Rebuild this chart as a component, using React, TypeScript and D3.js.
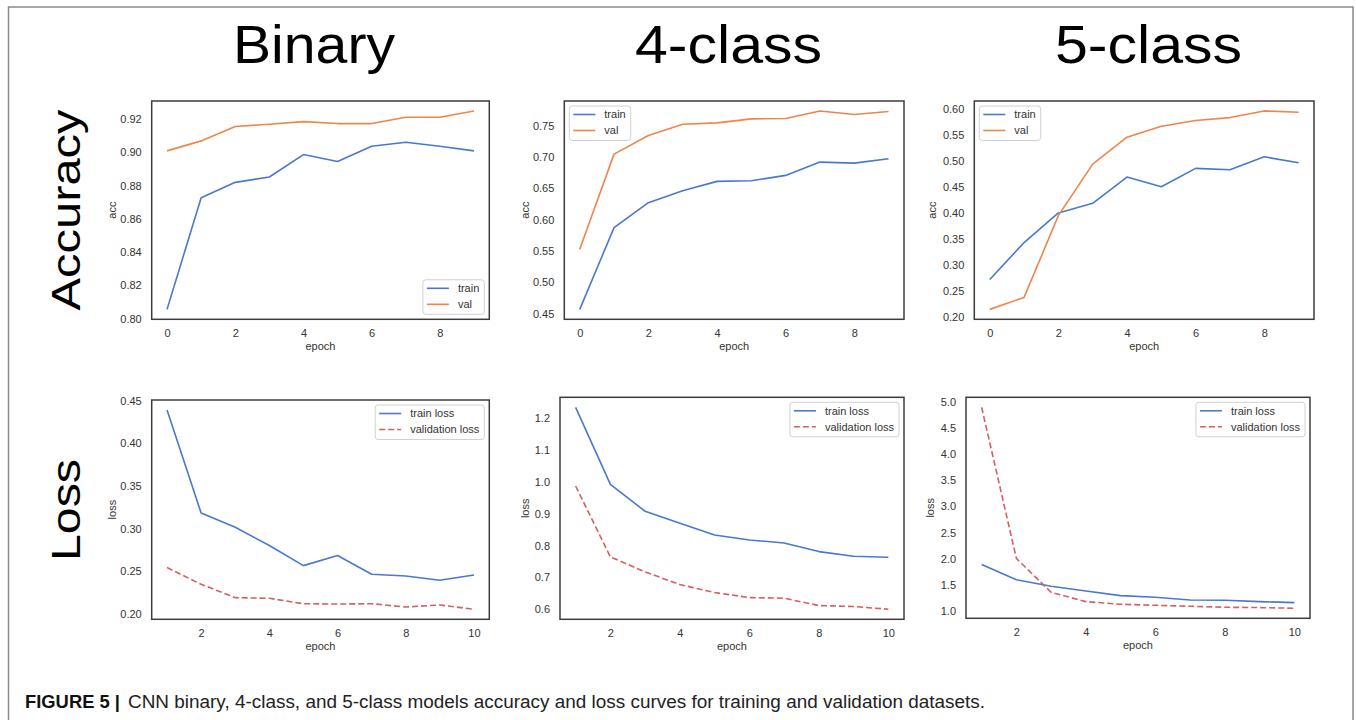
import React, { useRef, useEffect } from 'react';
import * as d3 from 'd3';

// epochs
const accEpochs = [0, 1, 2, 3, 4, 5, 6, 7, 8, 9];
const lossEpochs = [1, 2, 3, 4, 5, 6, 7, 8, 9, 10];

// accuracy curves
const binaryTrainAcc = [0.8056, 0.8727, 0.8819, 0.8851, 0.8986, 0.8944, 0.9036, 0.906, 0.9036, 0.9008];
const binaryValAcc = [0.9008, 0.9068, 0.9154, 0.9168, 0.9184, 0.9172, 0.9172, 0.921, 0.921, 0.9248];
const fourTrainAcc = [0.4569, 0.5873, 0.627, 0.6461, 0.661, 0.662, 0.6705, 0.6917, 0.6901, 0.697];
const fourValAcc = [0.5528, 0.7044, 0.7341, 0.7521, 0.7542, 0.7606, 0.7611, 0.7733, 0.7675, 0.7723];
const fiveTrainAcc = [0.2716, 0.3425, 0.3994, 0.4179, 0.4684, 0.4498, 0.485, 0.4824, 0.5073, 0.4958];
const fiveValAcc = [0.2141, 0.2371, 0.3942, 0.4933, 0.545, 0.5661, 0.577, 0.5827, 0.5955, 0.593];

// loss curves
const binaryTrainLoss = [0.439, 0.3182, 0.3017, 0.2802, 0.2567, 0.2685, 0.2466, 0.2446, 0.2395, 0.2458];
const binaryValLoss = [0.2544, 0.2348, 0.2192, 0.2184, 0.2121, 0.2117, 0.2121, 0.2082, 0.2106, 0.2055];
const fourTrainLoss = [1.2346, 0.9927, 0.9079, 0.8702, 0.8335, 0.8178, 0.8084, 0.7812, 0.7665, 0.7634];
const fourValLoss = [0.9874, 0.7644, 0.7173, 0.6775, 0.6524, 0.6366, 0.6346, 0.6115, 0.6084, 0.6];
const fiveTrainLoss = [1.89, 1.598, 1.471, 1.382, 1.293, 1.261, 1.21, 1.203, 1.178, 1.159];
const fiveValLoss = [4.898, 2.005, 1.356, 1.178, 1.127, 1.108, 1.089, 1.07, 1.064, 1.051];

// tick labels
const accXTicks = [0, 2, 4, 6, 8];
const lossXTicks = [2, 4, 6, 8, 10];
const binaryAccTicks = [0.8, 0.82, 0.84, 0.86, 0.88, 0.9, 0.92];
const fourAccTicks = [0.45, 0.5, 0.55, 0.6, 0.65, 0.7, 0.75];
const fiveAccTicks = [0.2, 0.25, 0.3, 0.35, 0.4, 0.45, 0.5, 0.55, 0.6];
const binaryLossTicks = [0.2, 0.25, 0.3, 0.35, 0.4, 0.45];
const fourLossTicks = [0.6, 0.7, 0.8, 0.9, 1.0, 1.1, 1.2];
const fiveLossTicks = [1.0, 1.5, 2.0, 2.5, 3.0, 3.5, 4.0, 4.5, 5.0];

const columnTitles = ['Binary', '4-class', '5-class'];
const rowTitles = ['Accuracy', 'Loss'];

const BLUE = '#4878d0';
const ORANGE = '#ee854a';
const RED = '#d65f5f';
const FONT = '"Liberation Sans", Arial, Helvetica, sans-serif';

const accSeries = (train, val) => [
  { label: 'train', values: train, color: BLUE, dash: null },
  { label: 'val', values: val, color: ORANGE, dash: null },
];
const lossSeries = (train, val) => [
  { label: 'train loss', values: train, color: BLUE, dash: null },
  { label: 'validation loss', values: val, color: RED, dash: '6,3' },
];

const panels = [
  { box: [151.7, 101, 489.3, 319.3], epochs: accEpochs, xTicks: accXTicks, yTicks: binaryAccTicks, fmt: '.2f', ylabel: 'acc', ylabOff: 40, legend: 'lower right', series: accSeries(binaryTrainAcc, binaryValAcc) },
  { box: [564.3, 101, 904, 319.3], epochs: accEpochs, xTicks: accXTicks, yTicks: fourAccTicks, fmt: '.2f', ylabel: 'acc', ylabOff: 39.5, legend: 'upper left', series: accSeries(fourTrainAcc, fourValAcc) },
  { box: [974.3, 101, 1314, 319.3], epochs: accEpochs, xTicks: accXTicks, yTicks: fiveAccTicks, fmt: '.2f', ylabel: 'acc', ylabOff: 42.5, legend: 'upper left', series: accSeries(fiveTrainAcc, fiveValAcc) },
  { box: [151.7, 400, 489.3, 619.3], epochs: lossEpochs, xTicks: lossXTicks, yTicks: binaryLossTicks, fmt: '.2f', ylabel: 'loss', ylabOff: 40, legend: 'upper right', series: lossSeries(binaryTrainLoss, binaryValLoss) },
  { box: [560, 397.3, 904, 619.3], epochs: lossEpochs, xTicks: lossXTicks, yTicks: fourLossTicks, fmt: '.1f', ylabel: 'loss', ylabOff: 35, legend: 'upper right', series: lossSeries(fourTrainLoss, fourValLoss) },
  { box: [966, 397.3, 1310, 618.3], epochs: lossEpochs, xTicks: lossXTicks, yTicks: fiveLossTicks, fmt: '.1f', ylabel: 'loss', ylabOff: 36, legend: 'upper right', series: lossSeries(fiveTrainLoss, fiveValLoss) },
];

// matplotlib-style 5% autoscale margin
const padDomain = (vals: number[]) => {
  const [lo, hi] = d3.extent(vals) as [number, number];
  const m = (hi - lo) * 0.05;
  return [lo - m, hi + m];
};

const App = () => {
  const svgRef = useRef<SVGSVGElement>(null);

  useEffect(() => {
    const svg = d3.select(svgRef.current);
    svg.selectAll('*').remove();

    svg.append('rect')
      .attr('x', 0).attr('y', 0).attr('width', 1356).attr('height', 720)
      .attr('fill', 'white');

    // outer figure border (runs off the bottom)
    svg.append('rect')
      .attr('x', 8.5).attr('y', 7).attr('width', 1344.5).attr('height', 760)
      .attr('fill', 'none').attr('stroke', '#8a8a8a').attr('stroke-width', 1.5);

    // column titles
    const titleX = [314, 728.5, 1148.5];
    const titleLen = [162, 187, 187];
    columnTitles.forEach((t, i) => {
      svg.append('text')
        .attr('x', titleX[i]).attr('y', 63)
        .attr('text-anchor', 'middle')
        .attr('textLength', titleLen[i])
        .attr('lengthAdjust', 'spacingAndGlyphs')
        .style('font-family', FONT).style('font-size', '54px').style('fill', '#000')
        .text(t);
    });

    // row titles
    const rowY = [210, 510];
    const rowLen = [201, 102];
    rowTitles.forEach((t, i) => {
      svg.append('text')
        .attr('transform', `translate(80,${rowY[i]}) rotate(-90)`)
        .attr('text-anchor', 'middle')
        .attr('textLength', rowLen[i])
        .attr('lengthAdjust', 'spacingAndGlyphs')
        .style('font-family', FONT).style('font-size', '40px').style('fill', '#000')
        .text(t);
    });

    panels.forEach((p) => {
      const [x0, y0, x1, y1] = p.box;
      const allVals = p.series.flatMap((s) => s.values);
      const x = d3.scaleLinear().domain(padDomain(p.epochs)).range([x0, x1]);
      const y = d3.scaleLinear().domain(padDomain(allVals)).range([y1, y0]);
      const g = svg.append('g');

      g.append('rect')
        .attr('x', x0).attr('y', y0).attr('width', x1 - x0).attr('height', y1 - y0)
        .attr('fill', 'white');

      const line = d3.line<number>()
        .x((d, i) => x(p.epochs[i]))
        .y((d) => y(d));

      p.series.forEach((s) => {
        g.append('path')
          .datum(s.values)
          .attr('d', line)
          .attr('fill', 'none')
          .attr('stroke', s.color)
          .attr('stroke-width', 1.6)
          .attr('stroke-linejoin', 'round')
          .attr('stroke-dasharray', s.dash);
      });

      // axes
      const xAxis = g.append('g')
        .attr('transform', `translate(0,${y1})`)
        .call(d3.axisBottom(x).tickValues(p.xTicks).tickSize(0).tickPadding(10).tickFormat(d3.format('d')));
      const yAxis = g.append('g')
        .attr('transform', `translate(${x0},0)`)
        .call(d3.axisLeft(y).tickValues(p.yTicks).tickSize(0).tickPadding(10).tickFormat(d3.format(p.fmt)));
      [xAxis, yAxis].forEach((a) => {
        a.select('.domain').remove();
        a.selectAll('text')
          .style('font-family', FONT).style('font-size', '11px').style('fill', '#333');
      });

      g.append('text')
        .attr('x', (x0 + x1) / 2).attr('y', y1 + 31)
        .attr('text-anchor', 'middle')
        .style('font-family', FONT).style('font-size', '11px').style('fill', '#333')
        .text('epoch');
      g.append('text')
        .attr('transform', `translate(${x0 - p.ylabOff + 4},${(y0 + y1) / 2}) rotate(-90)`)
        .attr('text-anchor', 'middle')
        .style('font-family', FONT).style('font-size', '11px').style('fill', '#333')
        .text(p.ylabel);

      // frame
      g.append('rect')
        .attr('x', x0).attr('y', y0).attr('width', x1 - x0).attr('height', y1 - y0)
        .attr('fill', 'none').attr('stroke', '#3c3c3c').attr('stroke-width', 1.5);

      // legend
      const lg = g.append('g');
      const labels = p.series.map((s, i) =>
        lg.append('text')
          .attr('y', 8.5 + i * 16)
          .attr('dy', '0.35em')
          .style('font-family', FONT).style('font-size', '11px').style('fill', '#333')
          .text(s.label)
      );
      const maxW = d3.max(labels, (t) => (t.node() as SVGTextElement).getComputedTextLength()) || 0;
      const boxW = 35 + maxW + 5;
      const boxH = 34.5;
      const pad = 5;
      const lx = p.legend.includes('right') ? x1 - pad - boxW : x0 + pad;
      const ly = p.legend.includes('upper') ? y0 + pad : y1 - pad - boxH;
      lg.attr('transform', `translate(${lx},${ly})`);
      lg.insert('rect', ':first-child')
        .attr('x', 0).attr('y', 0).attr('width', boxW).attr('height', boxH)
        .attr('rx', 3)
        .attr('fill', 'white').attr('fill-opacity', 0.85)
        .attr('stroke', '#d0d0d0').attr('stroke-width', 1);
      p.series.forEach((s, i) => {
        lg.append('line')
          .attr('x1', 4).attr('x2', 26)
          .attr('y1', 8.5 + i * 16).attr('y2', 8.5 + i * 16)
          .attr('stroke', s.color).attr('stroke-width', 1.6)
          .attr('stroke-dasharray', s.dash);
      });
      labels.forEach((t) => t.attr('x', 35));
    });

    // caption
    svg.append('text')
      .attr('x', 25).attr('y', 708)
      .attr('textLength', 95)
      .attr('lengthAdjust', 'spacingAndGlyphs')
      .style('font-family', FONT).style('font-size', '17.5px').style('font-weight', 'bold').style('fill', '#111')
      .text('FIGURE 5 |');
    svg.append('text')
      .attr('x', 128).attr('y', 708)
      .attr('textLength', 857)
      .attr('lengthAdjust', 'spacingAndGlyphs')
      .style('font-family', FONT).style('font-size', '17.5px').style('fill', '#222')
      .text('CNN binary, 4-class, and 5-class models accuracy and loss curves for training and validation datasets.');
  }, []);

  return (
    <svg
      ref={svgRef}
      width={1356}
      height={720}
      style={{ position: 'absolute', left: 0, top: 0 }}
    />
  );
};

export default App;
